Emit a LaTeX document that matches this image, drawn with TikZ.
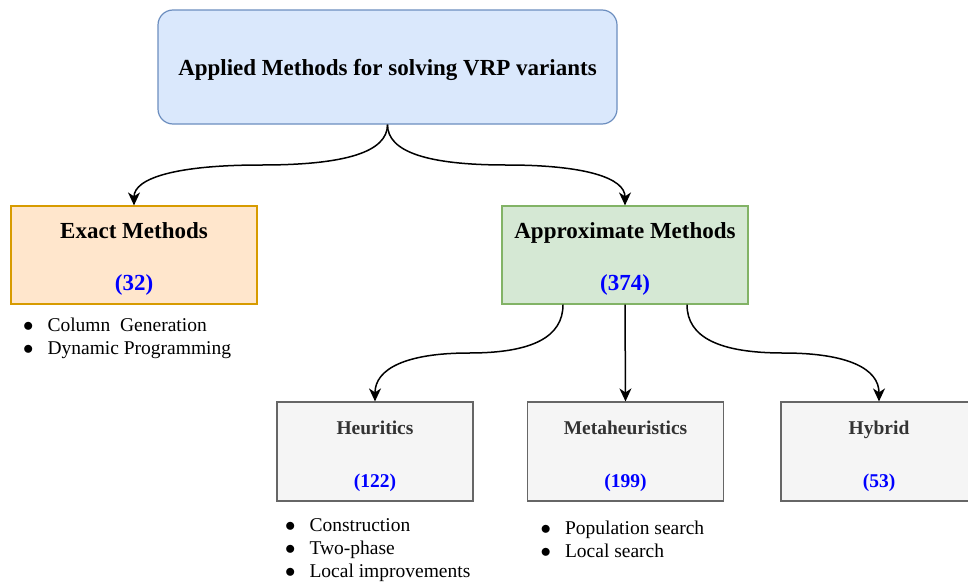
\documentclass[tikz,border=0pt]{standalone}
\usepackage{fontspec}
\setmainfont{Liberation Serif}
\usetikzlibrary{arrows.meta, positioning}

\definecolor{topfill}{HTML}{DAE8FC}
\definecolor{topline}{HTML}{6C8EBF}
\definecolor{exactfill}{HTML}{FFE6CC}
\definecolor{exactline}{HTML}{D79B00}
\definecolor{approxfill}{HTML}{D5E8D4}
\definecolor{approxline}{HTML}{82B366}
\definecolor{subfill}{HTML}{F5F5F5}
\definecolor{subline}{HTML}{666666}
\definecolor{subtext}{HTML}{333333}
\definecolor{numblue}{HTML}{0000FF}

\newcommand{\cnt}[1]{{\color{numblue}#1}}
\newcommand{\itm}{$\bullet$}
\newcommand{\pad}[1]{\rule{0pt}{#1}}

\begin{document}
\begin{tikzpicture}[x=1pt, y=-1pt, >={Stealth[length=13pt,width=12pt,inset=4pt]}, line width=1.5pt,
  mainbox/.style={rectangle, draw, line width=1.2pt, minimum width=246pt, minimum height=98pt, align=center, font=\fontsize{23}{27}\selectfont\bfseries},
  subbox/.style={rectangle, draw=subline, fill=subfill, text=subtext, line width=1.2pt, minimum width=196pt, minimum height=99pt, align=center, font=\fontsize{19.5}{23.4}\selectfont\bfseries},
  itemlist/.style={inner sep=0pt, font=\fontsize{19.5}{23}\selectfont}]
  \useasboundingbox (0,0) rectangle (968,581);

  \node[rectangle, rounded corners=15pt, draw=topline, fill=topfill, line width=1.2pt, minimum width=459pt, minimum height=114pt, text height=21.6pt, font=\fontsize{23}{27}\selectfont\bfseries] (top) at (387.5,67) {Applied Methods for solving VRP variants};

  \node[mainbox, draw=exactline, fill=exactfill] (exact) at (134,255) {\pad{23.6pt}Exact Methods\\[25pt]\cnt{(32)}};
  \node[mainbox, draw=approxline, fill=approxfill] (approx) at (625,255) {\pad{23.6pt}Approximate Methods\\[25pt]\cnt{(374)}};

  \node[subbox] (heur) at (375,451.5) {\pad{23.2pt}Heuritics\\[29pt]\cnt{(122)}};
  \node[subbox] (meta) at (625.5,451.5) {\pad{23.2pt}Metaheuristics\\[29pt]\cnt{(199)}};
  \node[subbox] (hybrid) at (879,451.5) {\pad{23.2pt}Hybrid\\[29pt]\cnt{(53)}};

  % method lists
  \node[itemlist, below right=10pt and 12pt of exact.south west] (exactlist) {\begin{tabular}{@{}l@{\hspace{14pt}}l@{}}\itm & Column\ \ Generation\\ \itm & Dynamic Programming\end{tabular}};
  \node[itemlist, below right=13pt and 8pt of heur.south west] (heurlist) {\begin{tabular}{@{}l@{\hspace{14pt}}l@{}}\itm & Construction\\ \itm & Two-phase\\ \itm & Local improvements\end{tabular}};
  \node[itemlist, below right=16pt and 13pt of meta.south west] (metalist) {\begin{tabular}{@{}l@{\hspace{14pt}}l@{}}\itm & Population search\\ \itm & Local search\end{tabular}};

  % connectors
  \draw[->] (top.south) .. controls +(0,27.3) and +(84.7,0) .. (261,165) .. controls +(-84.7,0) and +(0,-27.3) .. (exact.north);
  \draw[->] (top.south) .. controls +(0,27.3) and +(-79,0) .. (506.5,165) .. controls +(79,0) and +(0,-27.3) .. (approx.north);
  \draw[->] ([xshift=-62pt]approx.south) .. controls +(0,32.7) and +(62.7,0) .. (469,353) .. controls +(-62.7,0) and +(0,-32.7) .. (heur.north);
  \draw[->] (approx.south) -- (meta.north);
  \draw[->] ([xshift=62pt]approx.south) .. controls +(0,32.7) and +(-64.3,0) .. (783.5,353) .. controls +(64.3,0) and +(0,-32.7) .. (hybrid.north);
\end{tikzpicture}
\end{document}
